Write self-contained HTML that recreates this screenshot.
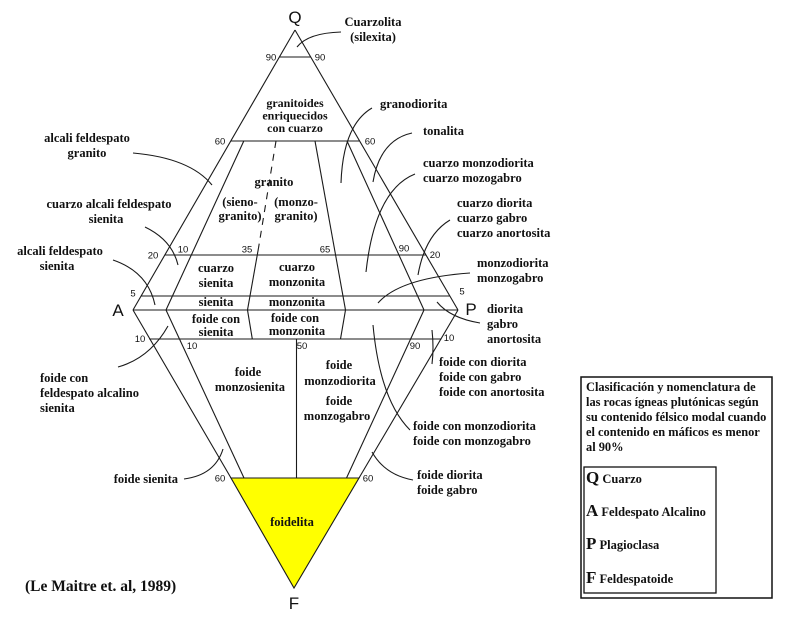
<!DOCTYPE html>
<html><head><meta charset="utf-8"><style>
html,body{margin:0;padding:0;background:#fff;}
svg{display:block;}
.t{font-family:"Liberation Serif",serif;font-weight:bold;font-size:12.5px;fill:#111;}
.m{text-anchor:middle;}
.e{text-anchor:end;}
.n{font-family:"Liberation Sans",sans-serif;font-size:9.5px;fill:#111;text-anchor:middle;}
.v{font-family:"Liberation Sans",sans-serif;font-size:17px;fill:#111;text-anchor:middle;}
.l{stroke:#1a1a1a;stroke-width:1.1;fill:none;}
</style></head><body>
<svg width="787" height="628" viewBox="0 0 787 628" xmlns="http://www.w3.org/2000/svg">
<rect width="787" height="628" fill="#fff"/>
<!-- yellow triangle -->
<polygon points="231,478 359,478 294,588" fill="#ffff00" stroke="#1a1a1a" stroke-width="1.1"/>
<!-- outer diamond edges -->
<g class="l">
<line x1="295" y1="30" x2="133" y2="310"/>
<line x1="295" y1="30" x2="458" y2="310"/>
<line x1="133" y1="310" x2="231" y2="478"/>
<line x1="458" y1="310" x2="359" y2="478"/>
<!-- horizontals -->
<line x1="279.4" y1="57" x2="310.7" y2="57"/>
<line x1="230.8" y1="141" x2="359.6" y2="141"/>
<line x1="164.8" y1="255" x2="426" y2="255"/>
<line x1="141" y1="296" x2="450" y2="296"/>
<line x1="133" y1="310" x2="458" y2="310"/>
<line x1="149.2" y1="339" x2="441.5" y2="339"/>
<!-- upper inner -->
<line x1="243.8" y1="141" x2="166" y2="310"/>
<line x1="276" y1="141" x2="258.5" y2="248" stroke-dasharray="7,6"/>
<line x1="258.5" y1="248" x2="247.5" y2="310"/>
<line x1="315" y1="141" x2="345.5" y2="310"/>
<line x1="347" y1="141" x2="424" y2="310"/>
<!-- lower inner -->
<line x1="166" y1="310" x2="244" y2="478"/>
<line x1="247.5" y1="310" x2="252.3" y2="339"/>
<line x1="345.5" y1="310" x2="340.5" y2="339"/>
<line x1="296.5" y1="339" x2="296.5" y2="478"/>
<line x1="424" y1="310" x2="346.5" y2="478"/>
<!-- leader curves -->
<path d="M341,32 Q308,33 297,47"/>
<path d="M133,153 Q190,158 212,185"/>
<path d="M145,227 Q172,240 178,265"/>
<path d="M113,260 Q148,272 155,305"/>
<path d="M168,326 Q150,358 118,367"/>
<path d="M184,479 Q215,475 223,449"/>
<path d="M372,108 Q343,125 341,183"/>
<path d="M412,133 Q380,140 373,182"/>
<path d="M415,174 Q375,190 366,272"/>
<path d="M450,220 Q425,235 418,275"/>
<path d="M470,273 Q400,278 378,303"/>
<path d="M437,302 Q450,318 480,323"/>
<path d="M432,330 Q434,348 432,364"/>
<path d="M373,325 Q380,400 410,430"/>
<path d="M372,452 Q385,475 413,480"/>
</g>
<!-- vertex letters -->
<text class="v" x="295" y="23">Q</text>
<text class="v" x="118" y="316">A</text>
<text class="v" x="471" y="315">P</text>
<text class="v" x="294" y="609">F</text>
<!-- tick numbers -->
<text class="n" x="271" y="60.5">90</text>
<text class="n" x="320" y="60.5">90</text>
<text class="n" x="220" y="144.5">60</text>
<text class="n" x="370" y="144.5">60</text>
<text class="n" x="153" y="258.5">20</text>
<text class="n" x="183" y="252.5">10</text>
<text class="n" x="247" y="252.5">35</text>
<text class="n" x="325" y="252.5">65</text>
<text class="n" x="404" y="251.5">90</text>
<text class="n" x="435" y="258">20</text>
<text class="n" x="133" y="296.5">5</text>
<text class="n" x="462" y="294.5">5</text>
<text class="n" x="140" y="342">10</text>
<text class="n" x="192" y="349">10</text>
<text class="n" x="302" y="349">50</text>
<text class="n" x="415" y="349">90</text>
<text class="n" x="449" y="341">10</text>
<text class="n" x="220" y="481.5">60</text>
<text class="n" x="368" y="481.5">60</text>
<!-- top labels -->
<text class="t m" x="373" y="26">Cuarzolita</text>
<text class="t m" x="373" y="41">(silexita)</text>
<text class="t m" x="295" y="107" style="font-size:12px">granitoides</text>
<text class="t m" x="295" y="119.5" style="font-size:12px">enriquecidos</text>
<text class="t m" x="295" y="132" style="font-size:12px">con cuarzo</text>
<text class="t m" x="274" y="186">granito</text>
<text class="t m" x="240" y="206">(sieno-</text>
<text class="t m" x="240" y="220">granito)</text>
<text class="t m" x="296" y="206">(monzo-</text>
<text class="t m" x="296" y="220">granito)</text>
<!-- interior -->
<text class="t m" x="216" y="272">cuarzo</text>
<text class="t m" x="216" y="287">sienita</text>
<text class="t m" x="297" y="271">cuarzo</text>
<text class="t m" x="297" y="286">monzonita</text>
<text class="t m" x="216" y="306">sienita</text>
<text class="t m" x="297" y="306">monzonita</text>
<text class="t m" x="216" y="323">foide con</text>
<text class="t m" x="216" y="336">sienita</text>
<text class="t m" x="295" y="322">foide con</text>
<text class="t m" x="297" y="335">monzonita</text>
<text class="t m" x="248" y="376">foide</text>
<text class="t m" x="250" y="391">monzosienita</text>
<text class="t m" x="339" y="369">foide</text>
<text class="t m" x="340" y="385">monzodiorita</text>
<text class="t m" x="339" y="405">foide</text>
<text class="t m" x="337" y="420">monzogabro</text>
<text class="t m" x="292" y="526">foidelita</text>
<!-- right labels -->
<text class="t" x="380" y="108">granodiorita</text>
<text class="t" x="423" y="135">tonalita</text>
<text class="t" x="423" y="167">cuarzo monzodiorita</text>
<text class="t" x="423" y="182">cuarzo mozogabro</text>
<text class="t" x="457" y="207">cuarzo diorita</text>
<text class="t" x="457" y="222">cuarzo gabro</text>
<text class="t" x="457" y="237">cuarzo anortosita</text>
<text class="t" x="477" y="267">monzodiorita</text>
<text class="t" x="477" y="282">monzogabro</text>
<text class="t" x="487" y="313">diorita</text>
<text class="t" x="487" y="328">gabro</text>
<text class="t" x="487" y="343">anortosita</text>
<text class="t" x="439" y="366">foide con diorita</text>
<text class="t" x="439" y="381">foide con gabro</text>
<text class="t" x="439" y="396">foide con anortosita</text>
<text class="t" x="413" y="430">foide con monzodiorita</text>
<text class="t" x="413" y="445">foide con monzogabro</text>
<text class="t" x="417" y="479">foide diorita</text>
<text class="t" x="417" y="494">foide gabro</text>
<!-- left labels -->
<text class="t m" x="87" y="142">alcali feldespato</text>
<text class="t m" x="87" y="157">granito</text>
<text class="t m" x="109" y="208">cuarzo alcali feldespato</text>
<text class="t m" x="106" y="223">sienita</text>
<text class="t m" x="60" y="255">alcali feldespato</text>
<text class="t m" x="57" y="270">sienita</text>
<text class="t" x="40" y="382">foide con</text>
<text class="t" x="40" y="397">feldespato alcalino</text>
<text class="t" x="40" y="412">sienita</text>
<text class="t e" x="178" y="483">foide sienita</text>
<text class="t" x="25" y="591" style="font-size:15.5px">(Le Maitre et. al, 1989)</text>
<!-- legend -->
<rect x="581" y="377" width="191" height="221" fill="none" stroke="#111" stroke-width="1.5"/>
<rect x="584" y="467" width="132" height="126" fill="none" stroke="#111" stroke-width="1.3"/>
<g class="t" style="font-size:12.4px">
<text x="586" y="391">Clasificación y nomenclatura de</text>
<text x="586" y="406">las rocas ígneas plutónicas según</text>
<text x="586" y="421">su contenido félsico modal cuando</text>
<text x="586" y="436">el contenido en máficos es menor</text>
<text x="586" y="451">al 90%</text>
</g>
<text class="t" x="586" y="483"><tspan style="font-size:17px">Q</tspan> Cuarzo</text>
<text class="t" x="586" y="516"><tspan style="font-size:17px">A</tspan> Feldespato Alcalino</text>
<text class="t" x="586" y="549"><tspan style="font-size:17px">P</tspan> Plagioclasa</text>
<text class="t" x="586" y="583"><tspan style="font-size:17px">F</tspan> Feldespatoide</text>
</svg>
</body></html>
